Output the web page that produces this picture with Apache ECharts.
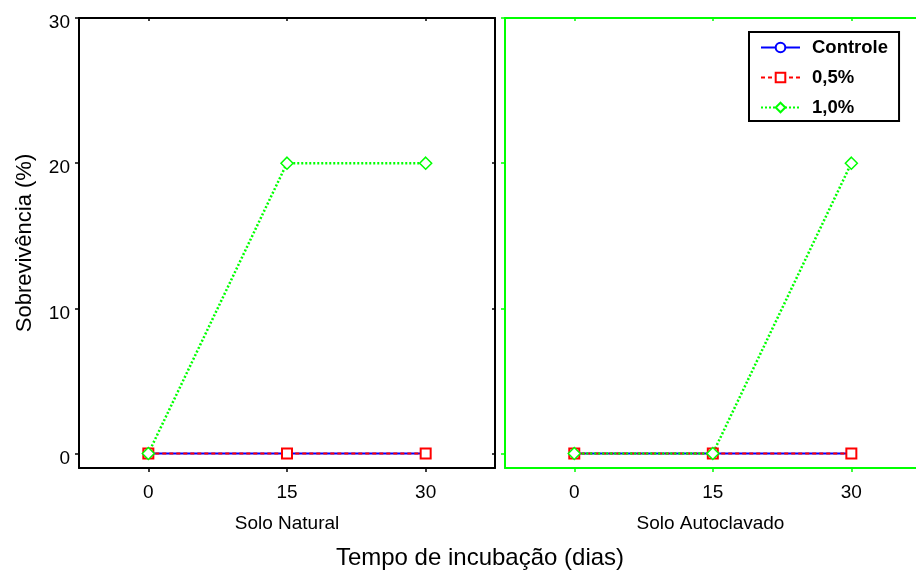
<!DOCTYPE html>
<html>
<head>
<meta charset="utf-8">
<script src="https://cdn.jsdelivr.net/npm/echarts@6/dist/echarts.min.js"></script>
<style>
  html, body { margin: 0; padding: 0; background: #fff; }
  #chart { width: 916px; height: 574px; }
</style>
</head>
<body>
<div id="chart"></div>
<script>
// Incubation days (x positions) and tick values
const days = [0, 15, 30];
const yTicks = [0, 10, 20, 30];

// Survival (%) per treatment, natural soil
const naturalControle = [0, 0, 0];
const naturalHalf = [0, 0, 0];
const naturalOne = [0, 20, 20];

// Survival (%) per treatment, autoclaved soil
const autoclavedControle = [0, 0, 0];
const autoclavedHalf = [0, 0, 0];
const autoclavedOne = [0, 0, 20];

const seriesNames = ['Controle', '0,5%', '1,0%'];
const panelNames = ['Solo Natural', 'Solo Autoclavado'];

const FONT = "'Liberation Sans', Arial, sans-serif";
const BLUE = '#0000ff', RED = '#ff0000', GREEN = '#00ff00';

const pairs = (ys) => days.map((d, i) => [d, ys[i]]);

function seriesSet(panel, c, h, o) {
  return [
    {
      name: seriesNames[0], type: 'line', xAxisIndex: panel * 2, yAxisIndex: panel * 2,
      data: pairs(c), color: BLUE, symbol: 'circle', symbolSize: 9,
      lineStyle: { color: BLUE, width: 2, type: 'solid' },
      itemStyle: { color: '#fff', borderColor: BLUE, borderWidth: 1.5 }
    },
    {
      name: seriesNames[1], type: 'line', xAxisIndex: panel * 2, yAxisIndex: panel * 2,
      data: pairs(h), color: RED, symbol: 'rect', symbolSize: 10,
      lineStyle: { color: RED, width: 2, type: [4, 3] },
      itemStyle: { color: '#fff', borderColor: RED, borderWidth: 2 }
    },
    {
      name: seriesNames[2], type: 'line', xAxisIndex: panel * 2, yAxisIndex: panel * 2,
      data: pairs(o), color: GREEN, symbol: 'diamond', symbolSize: 12,
      lineStyle: { color: GREEN, width: 2.5, type: [2, 2] },
      itemStyle: { color: '#fff', borderColor: GREEN, borderWidth: 1.5 }
    }
  ];
}

// Frame edges are drawn as axis lines so that an edge can be left open
function edge(color, show) {
  return { show: show, onZero: false, lineStyle: { color: color, width: 2 } };
}

function xAxes(grid, color, name, xMax) {
  return [
    {
      gridIndex: grid, type: 'value', min: -7.5, max: xMax, position: 'bottom',
      axisLine: edge(color, true),
      axisTick: { show: true, customValues: days, length: 4, inside: false, lineStyle: { color: color, width: 1.5 } },
      axisLabel: { customValues: days, fontSize: 19, margin: 15, color: '#000', fontFamily: FONT },
      splitLine: { show: false },
      name: name, nameLocation: 'middle', nameGap: 46,
      nameTextStyle: { fontSize: 19, color: '#000', fontFamily: FONT }
    },
    {
      gridIndex: grid, type: 'value', min: -7.5, max: xMax, position: 'top',
      axisLine: edge(color, true),
      axisTick: { show: true, customValues: days, length: 3, inside: true, lineStyle: { color: color, width: 1.5 } },
      axisLabel: { show: false },
      splitLine: { show: false }
    }
  ];
}

function yAxes(grid, color, labels, rightEdge) {
  return [
    {
      gridIndex: grid, type: 'value', min: -1, max: 30, position: 'left',
      axisLine: edge(color, true),
      axisTick: { show: true, customValues: yTicks, length: 4, inside: false, lineStyle: { color: color, width: 1.5 } },
      axisLabel: {
        show: labels, customValues: yTicks, fontSize: 19, margin: 9, color: '#000', fontFamily: FONT,
        verticalAlign: 'top', lineHeight: 10
      },
      splitLine: { show: false }
    },
    {
      gridIndex: grid, type: 'value', min: -1, max: 30, position: 'right',
      axisLine: edge(color, rightEdge),
      axisTick: { show: rightEdge, customValues: yTicks, length: 3, inside: true, lineStyle: { color: color, width: 1.5 } },
      axisLabel: { show: false },
      splitLine: { show: false }
    }
  ];
}

const chart = echarts.init(document.getElementById('chart'), null, { renderer: 'canvas' });

chart.setOption({
  animation: false,
  backgroundColor: '#fff',
  textStyle: { fontFamily: FONT },
  grid: [
    { left: 79, top: 18, width: 416, height: 450 },
    // the autoclaved-soil panel continues past the right edge of the page
    { left: 505, top: 18, width: 411, height: 450 }
  ],
  xAxis: [].concat(xAxes(0, '#000', panelNames[0], 37.5), xAxes(1, GREEN, panelNames[1], 37)),
  yAxis: [].concat(yAxes(0, '#000', true, true), yAxes(1, GREEN, false, false)),
  legend: {
    data: seriesNames,
    orient: 'vertical',
    left: 749, top: 32,
    itemWidth: 39, itemHeight: 12, itemGap: 11,
    padding: [6, 11, 4, 11],
    borderColor: '#000', borderWidth: 2, backgroundColor: '#fff',
    textStyle: { fontSize: 18.5, fontWeight: 'bold', color: '#000', fontFamily: FONT, padding: [0, 0, 0, 7] }
  },
  graphic: [
    {
      type: 'text', x: 25, y: 243, rotation: Math.PI / 2,
      style: { text: 'Sobrevivência (%)', fontSize: 22, fontFamily: FONT, fill: '#000', align: 'center', verticalAlign: 'middle' }
    },
    {
      type: 'text', x: 480, y: 558,
      style: { text: 'Tempo de incubação (dias)', fontSize: 24, fontFamily: FONT, fill: '#000', align: 'center', verticalAlign: 'middle' }
    }
  ],
  series: [].concat(
    seriesSet(0, naturalControle, naturalHalf, naturalOne),
    seriesSet(1, autoclavedControle, autoclavedHalf, autoclavedOne)
  )
});
</script>
</body>
</html>
